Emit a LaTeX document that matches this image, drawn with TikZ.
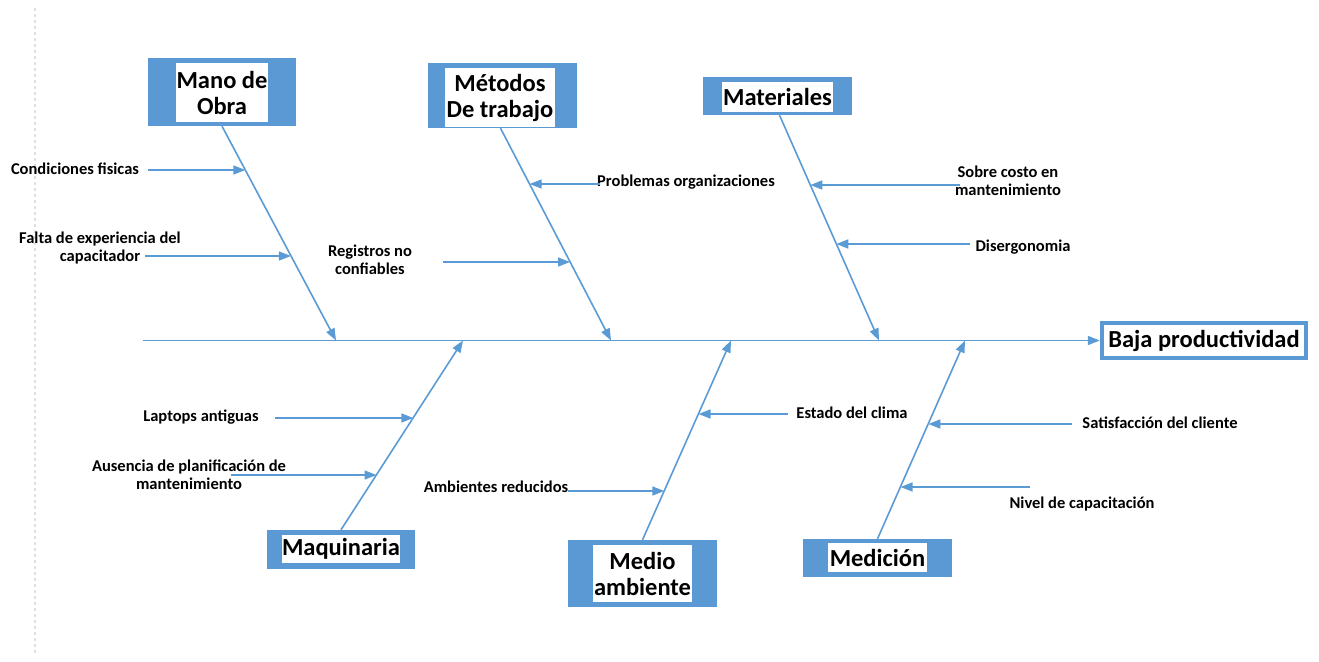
\documentclass[tikz,border=0pt]{standalone}
\usepackage{fontspec}
\setmainfont{Carlito}
\usetikzlibrary{arrows.meta,calc}
\definecolor{BoneClr}{rgb}{0.357,0.608,0.835}
\definecolor{FrameClr}{rgb}{0.357,0.600,0.835}
\definecolor{GuideClr}{rgb}{0.88,0.88,0.88}
\newcommand{\CatFont}{\fontsize{24.5}{26}\selectfont\bfseries}
\newcommand{\CauseFont}{\fontsize{16.5}{17.5}\selectfont\bfseries}
\tikzset{
  catframe/.style={fill=FrameClr,inner sep=0pt},
  cat/.style={fill=white,inner sep=0pt,align=center,font=\CatFont},
  cause/.style={inner sep=0pt,align=center,font=\CauseFont},
  bone/.style={draw=BoneClr,line width=1.6pt,-{Triangle[length=12pt,width=9pt]}},
}

\begin{document}
\begin{tikzpicture}[x=1pt,y=-1pt]
\useasboundingbox (0,0) rectangle (1319,661);

\draw[GuideClr,line width=1.5pt,dashed] (35,8) -- (35,655);

\node[catframe,minimum width=148,minimum height=68] (manoF) at (222,92) {};
\node[cat,minimum width=92,minimum height=59] (mano) at (222,92.5) {Mano de\\Obra};
\node[catframe,minimum width=149,minimum height=65] (metF) at (502.5,95.5) {};
\node[cat,minimum width=110,minimum height=59] (met) at (500,97.5) {Métodos\\De trabajo};
\node[catframe,minimum width=149,minimum height=38] (matF) at (777.5,96) {};
\node[cat,minimum width=111,minimum height=30] (mat) at (777.5,97) {Materiales};
\node[catframe,minimum width=148,minimum height=39] (maqF) at (341,549.5) {};
\node[cat,minimum width=118,minimum height=28] (maq) at (341,549) {Maquinaria};
\node[catframe,minimum width=149,minimum height=67] (medF) at (642.5,573.5) {};
\node[cat,minimum width=99,minimum height=57] (med) at (642.5,573.5) {Medio\\ambiente};
\node[catframe,minimum width=149,minimum height=38] (micF) at (877.5,558) {};
\node[cat,minimum width=99,minimum height=29] (mic) at (877.5,557.5) {Medición};
\node[catframe,minimum width=208,minimum height=39] (bajaF) at (1204,340.5) {};
\node[cat,minimum width=200,minimum height=31] (baja) at (1204,340.5) {Baja productividad};

\coordinate (tail) at (143,340.5);
\coordinate (hMano) at (336,340.5);
\coordinate (hMet) at (611,340.5);
\coordinate (hMat) at (879,340.5);
\coordinate (hMaq) at (463,340.5);
\coordinate (hMed) at (731,340.5);
\coordinate (hMic) at (965,340.5);

\draw[bone] (tail) -- (bajaF.west);
\draw[bone] (manoF.south) -- (hMano);
\draw[bone] ([xshift=-2]metF.south) -- (hMet);
\draw[bone] ([xshift=2]matF.south) -- (hMat);
\draw[bone] (maqF.north) -- (hMaq);
\draw[bone] (medF.north) -- (hMed);
\draw[bone] (micF.north) -- (hMic);

\node[cause] (cond) at (75,169) {Condiciones fisicas};
\node[cause] (falta) at (100,248) {Falta de experiencia del\\capacitador};
\node[cause] (regis) at (370,260) {Registros no\\confiables};
\node[cause] (probl) at (686,182) {Problemas organizaciones};
\node[cause] (sobre) at (1008,181) {Sobre costo en\\mantenimiento};
\node[cause] (diser) at (1023,247) {Disergonomia};
\node[cause] (lapt) at (201,417) {Laptops antiguas};
\node[cause] (ausen) at (189,475) {Ausencia de planificación de\\mantenimiento};
\node[cause] (ambie) at (496,487) {Ambientes reducidos};
\node[cause] (estad) at (852,413) {Estado del clima};
\node[cause] (satis) at (1160,423) {Satisfacción del cliente};
\node[cause] (nivel) at (1082,504) {Nivel de capacitación};

\coordinate (cCond) at (148,170);   \coordinate (tCond) at (245.3,170);
\coordinate (cFalta) at (145,256);  \coordinate (tFalta) at (290.9,256);
\coordinate (cRegis) at (443,262);  \coordinate (tRegis) at (570,262);
\coordinate (cProbl) at (600,184);  \coordinate (tProbl) at (529.6,184);
\coordinate (cSobre) at (960,185);  \coordinate (tSobre) at (810.3,185);
\coordinate (cDiser) at (970,244);  \coordinate (tDiser) at (836.3,244);
\coordinate (cLapt) at (275,418);   \coordinate (tLapt) at (413.3,418);
\coordinate (cAusen) at (231,475);  \coordinate (tAusen) at (376.5,475);
\coordinate (cAmbie) at (568,491);  \coordinate (tAmbie) at (664.3,491);
\coordinate (cEstad) at (788,414);  \coordinate (tEstad) at (698.5,414);
\coordinate (cSatis) at (1072,424); \coordinate (tSatis) at (928.3,424);
\coordinate (cNivel) at (1030,487); \coordinate (tNivel) at (900.5,487);

\foreach \c in {Cond,Falta,Regis,Probl,Sobre,Diser,Lapt,Ausen,Ambie,Estad,Satis,Nivel}
  \draw[bone] (c\c) -- (t\c);

\end{tikzpicture}
\end{document}
